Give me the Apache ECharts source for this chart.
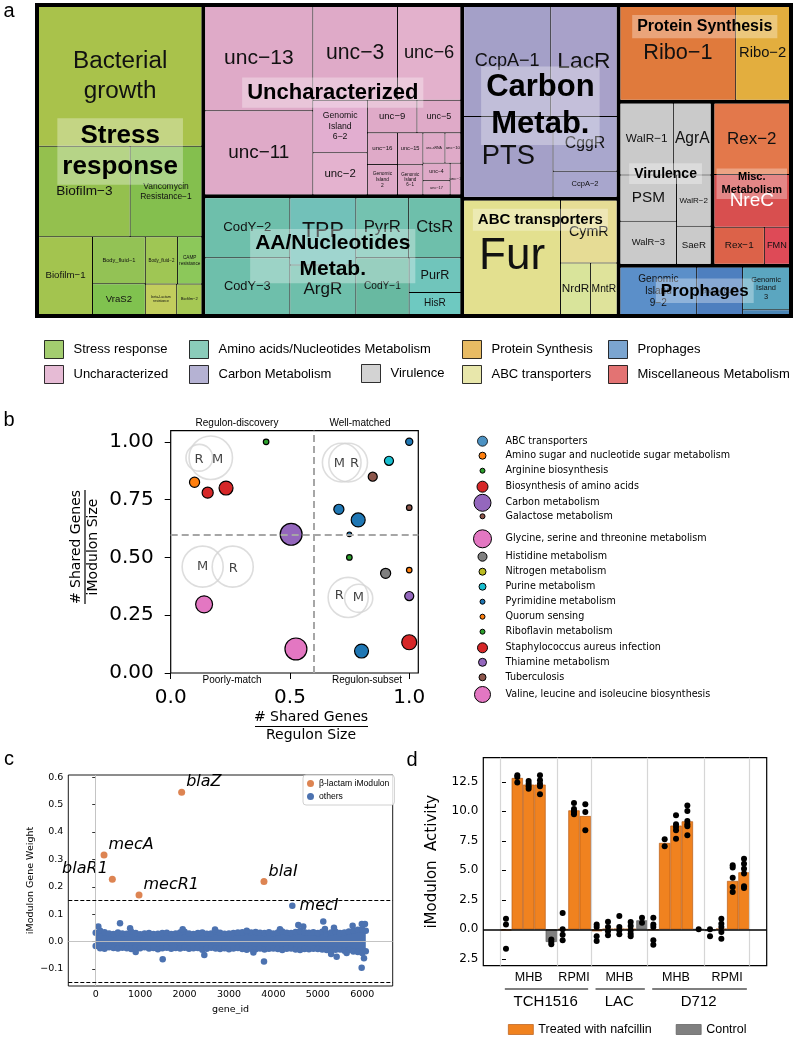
<!DOCTYPE html>
<html>
<head>
<meta charset="utf-8">
<title>iModulon overview</title>
<script src="https://cdn.jsdelivr.net/npm/echarts@6.0.0/dist/echarts.min.js"></script>
<style>
  html, body { margin: 0; padding: 0; background: #fff; }
  #chart { width: 800px; height: 1037px; }
</style>
</head>
<body>
<div id="chart"></div>
<script>
// ---------- a: iModulon treemap (sizes) ----------
const categories = ['Stress response', 'Uncharacterized', 'Amino acids/Nucleotides Metabolism', 'Carbon Metabolism',
  'ABC transporters', 'Protein Synthesis', 'Virulence', 'Miscellaneous Metabolism', 'Prophages'];
const categoryShort = ['Stress\nresponse', 'Uncharacterized', 'AA/Nucleotides\nMetab.', 'Carbon\nMetab.',
  'ABC transporters', 'Protein Synthesis', 'Virulence', 'Misc.\nMetabolism', 'Prophages'];

const stressModulons = ['Bacterial growth', 'Biofilm-3', 'Vancomycin Resistance-1', 'Biofilm-1', 'Body_fluid-1', 'VraS2',
  'Body_fluid-2', 'CAMP resistance', 'beta-Lactam resistance', 'Biofilm-2'];
const stressSizes = [239, 87, 68, 44, 26, 17, 16, 12, 10, 8];
const uncModulons = ['unc-13', 'unc-11', 'unc-3', 'unc-6', 'Genomic Island 6-2', 'unc-2', 'unc-9', 'unc-5', 'unc-16',
  'Genomic Island 2', 'unc-15', 'Genomic Island 6-1', 'unc-sRNA', 'unc-4', 'unc-10', 'unc-17', 'unc-1'];
const uncSizes = [118, 95, 83, 62, 30, 24, 17, 15, 10, 9.5, 8.5, 8, 7, 5, 5, 4, 3.5];
const aaModulons = ['CodY-2', 'CodY-3', 'TPP', 'ArgR', 'PyrR', 'CtsR', 'CodY-1', 'PurR', 'HisR'];
const aaSizes = [54, 51, 47, 34.5, 33.5, 33, 32, 19, 12];
const carbonModulons = ['CcpA-1', 'LacR', 'PTS', 'CggR', 'CcpA-2'];
const carbonSizes = [101, 77, 76, 37, 17.5];
const abcModulons = ['Fur', 'CymR', 'NrdR', 'MntR'];
const abcSizes = [118, 38, 16.5, 14.5];
const proteinModulons = ['Ribo-1', 'Ribo-2'];
const proteinSizes = [116, 54];
const virulenceModulons = ['WalR-1', 'AgrA', 'PSM', 'WalR-3', 'WalR-2', 'SaeR'];
const virulenceSizes = [41, 29, 28, 26, 19, 14];
const miscModulons = ['Rex-2', 'NreC', 'Rex-1', 'FMN'];
const miscSizes = [58, 43, 20, 10];
const prophageModulons = ['Genomic Island 9-2', 'phage_DUF', 'Genomic Island 3', 'Genomic Island 9-1'];
const prophageSizes = [40, 24, 22, 2.5];

// ---------- b: regulon / iModulon overlap ----------
const pathways = ['ABC transporters', 'Amino sugar and nucleotide sugar metabolism', 'Arginine biosynthesis',
  'Biosynthesis of amino acids', 'Carbon metabolism', 'Galactose metabolism', 'Glycine, serine and threonine metabolism',
  'Histidine metabolism', 'Nitrogen metabolism', 'Purine metabolism', 'Pyrimidine metabolism', 'Quorum sensing',
  'Riboflavin metabolism', 'Staphylococcus aureus infection', 'Thiamine metabolism', 'Tuberculosis',
  'Valine, leucine and isoleucine biosynthesis'];
const regulonShare = [0.40, 0.10, 0.155, 0.232, 0.505, 0.14, 0.525, 1.0, 0.915, 0.847, 1.0, 0.705, 0.786, 0.749, 0.749, 0.901, 1.0, 1.0, 0.80, 1.0];
const imodulonShare = [1.0, 0.825, 0.78, 0.80, 0.60, 0.297, 0.104, 1.0, 0.918, 0.849, 0.715, 0.708, 0.662, 0.60, 0.50, 0.431, 0.445, 0.333, 0.095, 0.133];
const sharedGenes = [3, 10, 12, 19, 47, 28, 47, 5, 8, 8, 3, 10, 19, 2, 3, 10, 3, 8, 19, 22];
const pointPathway = ['Riboflavin metabolism', 'Amino sugar and nucleotide sugar metabolism', 'Biosynthesis of amino acids',
  'Biosynthesis of amino acids', 'Carbon metabolism', 'Valine, leucine and isoleucine biosynthesis',
  'Glycine, serine and threonine metabolism', 'Pyrimidine metabolism', 'Purine metabolism', 'Tuberculosis',
  'Galactose metabolism', 'ABC transporters', 'ABC transporters', 'Pyrimidine metabolism', 'Arginine biosynthesis',
  'Histidine metabolism', 'Quorum sensing', 'Thiamine metabolism', 'ABC transporters', 'Staphylococcus aureus infection'];
// quadrant sketches (circle centre, radius in x units) and their letters
const vennX = [0.12, 0.168, 0.717, 0.744, 0.134, 0.26, 0.744, 0.788];
const vennY = [0.931, 0.931, 0.91, 0.91, 0.46, 0.46, 0.327, 0.323];
const vennR = [0.056, 0.091, 0.081, 0.081, 0.086, 0.086, 0.084, 0.059];
const vennLetters = ['R', 'M', 'M', 'R', 'M', 'R', 'R', 'M'];
const vennLetterX = [0.119, 0.197, 0.707, 0.771, 0.134, 0.262, 0.707, 0.787];
const vennLetterY = [0.924, 0.924, 0.904, 0.904, 0.46, 0.452, 0.335, 0.327];

// ---------- c: beta-lactam iModulon gene weights ----------
const betaGenes = ['blaZ', 'mecA', 'blaR1', 'mecR1', 'blaI'];
const betaGeneId = [1935, 187, 374, 975, 3788];
const betaWeight = [0.545, 0.316, 0.228, 0.170, 0.219];
const otherGeneId = [4426, 59, 547, 774, 1508, 1958, 2445, 2686, 3789, 4148, 4561, 4673, 5123, 5161, 5364, 5424,
  5649, 5784, 5990, 6061, 5987, 6039, 900, 3400, 3550, 5300];
const otherWeight = [0.131, 0.055, 0.067, 0.049, -0.064, 0.045, -0.049, 0.044, -0.073, 0.045, 0.061, 0.055, 0.073,
  0.046, 0.051, -0.055, -0.042, 0.058, 0.064, 0.064, -0.095, -0.061, -0.038, 0.040, -0.040, -0.045];
const otherLabelled = ['mecI'];
// the dense cloud of remaining genes: upper / lower edge read every 100 ids
const bandGeneId = [0, 100, 200, 300, 400, 500, 600, 700, 800, 900, 1000, 1100, 1200, 1300, 1400, 1500, 1600, 1700,
  1800, 1900, 2000, 2100, 2200, 2300, 2400, 2500, 2600, 2700, 2800, 2900, 3000, 3100, 3200, 3300, 3400, 3500, 3600,
  3700, 3800, 3900, 4000, 4100, 4200, 4300, 4400, 4500, 4600, 4700, 4800, 4900, 5000, 5100, 5200, 5300, 5400, 5500,
  5600, 5700, 5800, 5900, 6000, 6080];
const bandUpper = [0.032, 0.040, 0.034, 0.030, 0.028, 0.033, 0.030, 0.029, 0.036, 0.031, 0.027, 0.030, 0.031, 0.028,
  0.029, 0.031, 0.032, 0.028, 0.030, 0.033, 0.036, 0.030, 0.028, 0.031, 0.033, 0.029, 0.030, 0.038, 0.032, 0.029,
  0.030, 0.031, 0.033, 0.034, 0.036, 0.033, 0.035, 0.032, 0.031, 0.034, 0.030, 0.033, 0.037, 0.032, 0.031, 0.035,
  0.039, 0.034, 0.032, 0.034, 0.031, 0.036, 0.030, 0.033, 0.036, 0.031, 0.033, 0.037, 0.040, 0.043, 0.045, 0.040];
const bandLower = [-0.016, -0.024, -0.026, -0.021, -0.023, -0.025, -0.022, -0.024, -0.027, -0.022, -0.024, -0.021,
  -0.025, -0.023, -0.028, -0.024, -0.022, -0.026, -0.023, -0.025, -0.022, -0.026, -0.024, -0.023, -0.030, -0.026,
  -0.022, -0.025, -0.027, -0.024, -0.028, -0.025, -0.023, -0.027, -0.030, -0.026, -0.028, -0.025, -0.029, -0.026,
  -0.025, -0.027, -0.031, -0.026, -0.025, -0.029, -0.031, -0.027, -0.028, -0.026, -0.027, -0.029, -0.031, -0.028,
  -0.030, -0.029, -0.033, -0.031, -0.036, -0.038, -0.042, -0.035];

// ---------- d: iModulon activity per sample ----------
const sampleStrain = ['TCH1516', 'TCH1516', 'TCH1516', 'TCH1516', 'TCH1516', 'TCH1516', 'TCH1516', 'TCH1516',
  'LAC', 'LAC', 'LAC', 'LAC', 'LAC', 'D712', 'D712', 'D712', 'D712', 'D712', 'D712', 'D712', 'D712', 'D712'];
const sampleMedium = ['MHB', 'MHB', 'MHB', 'MHB', 'MHB', 'RPMI', 'RPMI', 'RPMI', 'MHB', 'MHB', 'MHB', 'MHB', 'MHB',
  'MHB', 'MHB', 'MHB', 'MHB', 'MHB', 'RPMI', 'RPMI', 'RPMI', 'RPMI'];
const sampleTreatment = ['Treated', 'Treated', 'Treated', 'Treated', 'Control', 'Treated', 'Treated', 'Treated',
  'Treated', 'Treated', 'Treated', 'Treated', 'Control', 'Treated', 'Treated', 'Treated', 'Treated', 'Control',
  'Control', 'Treated', 'Treated', 'Treated'];
const activity = [-0.1, 12.82, 12.26, 12.26, -1.07, 0.0, 10.08, 9.6, -0.17, 0.03, 0.05, 0.03, 0.76, -0.05,
  7.32, 8.79, 9.15, 0.0, -0.15, 0.05, 4.1, 4.83];
const replicates = [
  [0.9, 0.4, -1.64], [13.05, 12.9, 12.43], [12.57, 12.34, 12.12, 11.92], [13.05, 12.63, 12.34, 12.12, 11.44],
  [-0.85, -1.07, -1.27], [1.38, 0.0, -0.45, -0.93], [10.7, 10.2, 10.0, 9.9, 9.75], [10.6, 9.94, 8.39],
  [0.42, 0.2, -0.59, -0.99], [0.65, 0.2, -0.17, -0.5], [1.13, 0.2, -0.08, -0.42], [0.62, 0.28, -0.08, -0.37, -0.59],
  [0.99, 0.56], [0.99, 0.42, 0.2, -0.93, -1.3], [7.63, 7.03], [9.66, 8.9, 8.67, 8.39, 7.68],
  [10.5, 10.03, 9.18, 8.9, 8.73, 7.97], [0.0], [0.0, -0.59], [0.9, 0.48, 0.2, -0.23, -0.79],
  [5.42, 5.23, 4.38, 3.59, 3.16], [5.99, 5.56, 5.14, 4.72, 3.64, 3.5]
];

// ---------- styles ----------
const ARIAL = 'Liberation Sans';
const DEJAVU = 'DejaVu Sans';
const tab10 = ['#1f77b4', '#ff7f0e', '#2ca02c', '#d62728', '#9467bd', '#8c564b', '#e377c2', '#7f7f7f', '#bcbd22', '#17becf'];
const groupColors = ['#9fc34d', '#dfaac8', '#6ebfab', '#a4a0c8', '#e3e092', '#e3aa3d', '#cacaca', '#dc5450', '#5b8fc6'];
const legendColors = ['#8cc04b', '#e0aacb', '#6dbfa9', '#a39fc8', '#e2e196', '#e2aa3c', '#c8c8c8', '#dc5050', '#5a8fc4'];
const leafColors = {
  'Bacterial growth': '#a9c24b', 'Biofilm-3': '#94c04e', 'Vancomycin Resistance-1': '#84bf4e', 'Biofilm-1': '#a3c44f',
  'Body_fluid-1': '#93c255', 'VraS2': '#80c24f', 'Body_fluid-2': '#9fc654', 'CAMP resistance': '#8cc85a',
  'beta-Lactam resistance': '#c2cd5d', 'Biofilm-2': '#a6c854',
  'Genomic Island 6-2': '#e2aed0', 'unc-2': '#e4b2cf', 'unc-6': '#e3b1cc',
  'TPP': '#72c1b9', 'PurR': '#70c5bb', 'HisR': '#6ec9c1', 'CodY-1': '#68b9a1', 'PyrR': '#74c2b0',
  'CggR': '#a9a7cd', 'CcpA-2': '#a8a6cd', 'LacR': '#a8a1c9',
  'Fur': '#e3e08f', 'CymR': '#e6dc95', 'NrdR': '#d9e49b', 'MntR': '#dfe39b',
  'Ribo-1': '#e07a3c', 'Ribo-2': '#e3ae3e',
  'Rex-2': '#e3784b', 'NreC': '#d84f4f', 'Rex-1': '#dc6249', 'FMN': '#de4a57',
  'Genomic Island 9-2': '#5b8fc9', 'phage_DUF': '#4e7fbf', 'Genomic Island 3': '#5ba6c0', 'Genomic Island 9-1': '#4b86b6'
};
const groupLabelSize = [26, 22, 21, 31, 15, 16, 14, 11, 17];
const groupLabelTop = [false, false, false, false, true, true, false, false, false];
const groupLabelShift = [-9, -8, 0, 4, 0, 0, -10, 0, 0];
const bLegendSize = [10, 7, 5, 11, 17, 5, 18, 9, 7, 7, 5, 5, 5, 10, 8, 7, 16];
const bLegendY = [441.7, 456.7, 471.7, 486.7, 502.3, 517.3, 538.3, 557.7, 572.7, 587.7, 602.7, 617.7, 632.7, 648.3, 663.3, 678.3, 694];
const C_ORANGE = '#dd8452', C_BLUE = '#4c72b0';
const TREE_BOX = { left: 35, top: 3, width: 758, height: 315 };

const displayName = n => n.replace(/-(\d)/g, '\u2212$1').replace(/ /g, '\n');
function textEm(t) {
  let w = 0;
  for (const ch of t) {
    if ('iljtrf.,:;|!_'.includes(ch)) w += 0.3;
    else if ('mwMW'.includes(ch)) w += 0.85;
    else if (/[A-Z]/.test(ch)) w += 0.68;
    else w += 0.55;
  }
  return w;
}
// grow the label to fill its box, like the original
function fitFont(name, v) {
  const s = Math.sqrt(v) * 10;
  const lines = displayName(name).split('\n');
  const em = Math.max(...lines.map(textEm));
  return Math.max(3.5, Math.min(0.64 * s / em, 0.75 * s / (lines.length * 1.2), 44));
}

const chart = echarts.init(document.getElementById('chart'));

const modulonNames = [stressModulons, uncModulons, aaModulons, carbonModulons, abcModulons, proteinModulons,
  virulenceModulons, miscModulons, prophageModulons];
const modulonSizes = [stressSizes, uncSizes, aaSizes, carbonSizes, abcSizes, proteinSizes, virulenceSizes,
  miscSizes, prophageSizes];

const treeData = categories.map((c, i) => ({
  name: c,
  itemStyle: { color: groupColors[i] },
  children: modulonNames[i].map((m, j) => {
    const fs = fitFont(m, modulonSizes[i][j]);
    return {
      name: m, value: modulonSizes[i][j],
      itemStyle: { color: leafColors[m] || groupColors[i] },
      label: { fontSize: fs, lineHeight: fs * 1.2, color: m === 'NreC' ? '#fff' : '#111' }
    };
  })
}));

const series = [];
series.push(Object.assign({
  type: 'treemap', name: 'modulons', data: treeData, z: 2,
  roam: false, nodeClick: false, breadcrumb: { show: false }, squareRatio: 1.061,
  visibleMin: 0, tooltip: { show: false }, upperLabel: { show: false },
  levels: [
    { itemStyle: { borderColor: '#000', borderWidth: 4, gapWidth: 4 } },
    { itemStyle: { borderColor: '#000', borderWidth: 0, gapWidth: 1 } },
    { itemStyle: { borderWidth: 0 } }
  ],
  label: { show: true, position: 'inside', padding: 0, overflow: 'none', fontFamily: ARIAL,
    formatter: p => displayName(p.name) }
}, TREE_BOX));
// legend carriers for panel a
categories.forEach((c, i) => series.push({
  type: 'scatter', name: c, xAxisIndex: 0, yAxisIndex: 0, data: [], itemStyle: { color: legendColors[i] }
}));

// ---- panel b series ----
const bPxPerUnit = 247.6 / 1.038;
series.push({
  type: 'scatter', name: 'venn', xAxisIndex: 0, yAxisIndex: 0, silent: true, z: 1,
  data: vennX.map((x, i) => [x, vennY[i], vennR[i]]),
  symbolSize: v => 2 * v[2] * bPxPerUnit,
  itemStyle: { color: 'rgba(0,0,0,0)', borderColor: '#d5d5d5', borderWidth: 1.6 },
  markLine: {
    silent: true, symbol: 'none', label: { show: false },
    lineStyle: { color: '#a6a6a6', width: 2, type: [7, 4] },
    data: [{ xAxis: 0.6 }, { yAxis: 0.6 }]
  }
});
series.push({
  type: 'scatter', name: 'vennLetters', xAxisIndex: 0, yAxisIndex: 0, silent: true, z: 2, symbolSize: 1,
  itemStyle: { color: 'rgba(0,0,0,0)' },
  data: vennLetters.map((l, i) => ({ name: l, value: [vennLetterX[i], vennLetterY[i]] })),
  label: { show: true, position: 'inside', formatter: p => p.name, fontFamily: DEJAVU, fontSize: 13, color: '#111' }
});
pathways.forEach((p, k) => {
  const pts = [];
  pointPathway.forEach((q, i) => { if (q === p) pts.push([regulonShare[i], imodulonShare[i], sharedGenes[i]]); });
  series.push({
    type: 'scatter', name: p, xAxisIndex: 0, yAxisIndex: 0, z: 3, data: pts,
    symbolSize: v => 3.2 * Math.sqrt(v[2]),
    itemStyle: { color: tab10[k % 10], borderColor: '#000', borderWidth: 1.2, opacity: 1 }
  });
});

// ---- panel c series ----
const bandStyle = { symbol: 'none', silent: true, z: 2, lineStyle: { width: 0 }, areaStyle: { color: C_BLUE, opacity: 1 } };
series.push(Object.assign({ type: 'line', name: 'bandUpper', xAxisIndex: 1, yAxisIndex: 1,
  data: bandGeneId.map((g, i) => [g, bandUpper[i]]) }, bandStyle));
series.push(Object.assign({ type: 'line', name: 'bandLower', xAxisIndex: 1, yAxisIndex: 1,
  data: bandGeneId.map((g, i) => [g, bandLower[i]]) }, bandStyle));
const othersData = [];
bandGeneId.forEach((g, i) => { othersData.push([g, bandUpper[i]]); othersData.push([g, bandLower[i]]); });
otherGeneId.forEach((g, i) => {
  const item = { name: i < otherLabelled.length ? otherLabelled[i] : '', value: [g, otherWeight[i]] };
  if (i < otherLabelled.length) item.label = { show: true, position: 'right', distance: 4 };
  othersData.push(item);
});
const geneLabel = { formatter: p => p.name, fontFamily: DEJAVU, fontStyle: 'italic', fontSize: 16, color: '#000' };
series.push({
  type: 'scatter', name: 'others', xAxisIndex: 1, yAxisIndex: 1, z: 3, symbolSize: 6.5,
  itemStyle: { color: C_BLUE, opacity: 1 }, data: othersData, label: Object.assign({ show: false }, geneLabel),
  markLine: {
    silent: true, symbol: 'none', label: { show: false },
    data: [
      { xAxis: 0, lineStyle: { color: '#bdbdbd', width: 0.9, type: 'solid' } },
      { yAxis: 0, lineStyle: { color: '#bdbdbd', width: 0.9, type: 'solid' } },
      { yAxis: 0.15, lineStyle: { color: '#000', width: 1, type: [4, 2] } },
      { yAxis: -0.15, lineStyle: { color: '#000', width: 1, type: [4, 2] } }
    ]
  }
});
series.push({
  type: 'scatter', name: '\u03b2-lactam iModulon', xAxisIndex: 1, yAxisIndex: 1, z: 4, symbolSize: 7,
  itemStyle: { color: C_ORANGE, opacity: 1 },
  data: betaGenes.map((g, i) => ({
    name: g, value: [betaGeneId[i], betaWeight[i]],
    label: { position: g === 'blaR1' ? 'left' : 'right', distance: 1, offset: [0, -10] }
  })),
  label: Object.assign({ show: true }, geneLabel)
});

// ---- panel d series ----
const groupsD = [];
sampleStrain.forEach((s, i) => {
  const last = groupsD[groupsD.length - 1];
  if (last && last.strain === s && last.medium === sampleMedium[i]) last.end = i;
  else groupsD.push({ strain: s, medium: sampleMedium[i], start: i, end: i });
});
const strainGroups = [];
sampleStrain.forEach((s, i) => {
  const last = strainGroups[strainGroups.length - 1];
  if (last && last.strain === s) last.end = i;
  else strainGroups.push({ strain: s, start: i, end: i });
});
const mediumCenters = groupsD.map(g => (g.start + g.end) / 2);
const strainCenters = strainGroups.map(g => (g.start + g.end) / 2);
const separators = [groupsD[0].start - 0.5].concat(groupsD.map(g => g.end + 0.5));
const labelAt = (centers, names) => v => {
  const k = centers.findIndex(c => Math.abs(c - v) < 1e-6);
  return k < 0 ? '' : names[k];
};

const dBarWidth = 283.4 / 25;
const barStyle = {
  Treated: { color: '#f0821f', borderColor: '#b85c17', borderWidth: 0.7 },
  Control: { color: '#808080', borderColor: '#5a5a5a', borderWidth: 0.7 }
};
['Treated', 'Control'].forEach(t => {
  series.push({
    type: 'bar', name: t === 'Treated' ? 'Treated with nafcillin' : 'Control', xAxisIndex: 2, yAxisIndex: 2,
    barWidth: dBarWidth, barGap: '-100%', z: 2, itemStyle: barStyle[t],
    data: activity.map((a, i) => [i, a]).filter((d, i) => sampleTreatment[i] === t),
    markLine: t === 'Treated' ? {
      silent: true, symbol: 'none', label: { show: false },
      data: separators.map(x => ({ xAxis: x, lineStyle: { color: '#d6d6d6', width: 1.2, type: 'solid' } }))
        .concat([{ yAxis: 0, lineStyle: { color: '#000', width: 1.5, type: 'solid' } }])
    } : undefined
  });
});
const repData = [];
replicates.forEach((r, i) => r.forEach(v => repData.push([i, v])));
series.push({
  type: 'scatter', name: 'replicates', xAxisIndex: 2, yAxisIndex: 2, z: 6, symbolSize: 6,
  itemStyle: { color: '#000', opacity: 1 }, data: repData
});

// ---------- axes ----------
const blackTxt = { color: '#000' };
const xAxes = [
  { gridIndex: 0, type: 'value', min: 0, max: 1.038, splitLine: { show: false }, axisLine: { show: false },
    axisTick: { customValues: [0, 0.5, 1], length: 6, lineStyle: { color: '#000', width: 1 } },
    axisLabel: Object.assign({ customValues: [0, 0.5, 1], formatter: v => v.toFixed(1), fontSize: 20,
      fontFamily: DEJAVU, margin: 15 }, blackTxt) },
  { gridIndex: 1, type: 'value', min: -617, max: 6686, splitLine: { show: false }, axisLine: { show: false },
    axisTick: { customValues: [0, 1000, 2000, 3000, 4000, 5000, 6000], length: 3.5, lineStyle: { color: '#000', width: 0.8 } },
    axisLabel: Object.assign({ customValues: [0, 1000, 2000, 3000, 4000, 5000, 6000], formatter: v => String(v),
      fontSize: 9.5, fontFamily: DEJAVU, margin: 4 }, blackTxt),
    name: 'gene_id', nameLocation: 'middle', nameGap: 19,
    nameTextStyle: Object.assign({ fontFamily: DEJAVU, fontSize: 9.5 }, blackTxt) },
  { gridIndex: 2, type: 'value', min: -2, max: 23, splitLine: { show: false }, axisLine: { show: false },
    axisTick: { show: false },
    axisLabel: Object.assign({ customValues: mediumCenters, formatter: labelAt(mediumCenters, groupsD.map(g => g.medium)),
      fontSize: 12.5, fontFamily: ARIAL, margin: 5 }, blackTxt) },
  { gridIndex: 2, type: 'value', min: -2, max: 23, position: 'bottom', offset: 24, splitLine: { show: false },
    axisLine: { show: false }, axisTick: { show: false },
    axisLabel: Object.assign({ customValues: strainCenters, formatter: labelAt(strainCenters, strainGroups.map(g => g.strain)),
      fontSize: 15, fontFamily: ARIAL, margin: 5 }, blackTxt) }
];
const yAxes = [
  { gridIndex: 0, type: 'value', min: 0, max: 1.048, splitLine: { show: false }, axisLine: { show: false },
    axisTick: { customValues: [0, 0.25, 0.5, 0.75, 1], length: 6, lineStyle: { color: '#000', width: 1 } },
    axisLabel: Object.assign({ customValues: [0, 0.25, 0.5, 0.75, 1], formatter: v => v.toFixed(2), fontSize: 20,
      fontFamily: DEJAVU, margin: 17 }, blackTxt) },
  { gridIndex: 1, type: 'value', min: -0.162, max: 0.608, splitLine: { show: false }, axisLine: { show: false },
    axisTick: { customValues: [-0.1, 0, 0.1, 0.2, 0.3, 0.4, 0.5, 0.6], length: 3.5, lineStyle: { color: '#000', width: 0.8 } },
    axisLabel: Object.assign({ customValues: [-0.1, 0, 0.1, 0.2, 0.3, 0.4, 0.5, 0.6],
      formatter: v => (v < 0 ? '\u2212' : '') + Math.abs(v).toFixed(1), fontSize: 9.5, fontFamily: DEJAVU, margin: 5 }, blackTxt),
    name: 'iModulon Gene Weight', nameLocation: 'middle', nameRotate: 90, nameGap: 33,
    nameTextStyle: Object.assign({ fontFamily: DEJAVU, fontSize: 9.5 }, blackTxt) },
  { gridIndex: 2, type: 'value', min: -3.08, max: 14.54, splitLine: { show: false }, axisLine: { show: false },
    axisTick: { customValues: [-2.5, 0, 2.5, 5, 7.5, 10, 12.5], length: 4, lineStyle: { color: '#000', width: 1 } },
    axisLabel: Object.assign({ customValues: [-2.5, 0, 2.5, 5, 7.5, 10, 12.5], formatter: v => Math.abs(v).toFixed(1),
      fontSize: 12, fontFamily: DEJAVU, margin: 5 }, blackTxt),
    name: 'iModulon  Activity', nameLocation: 'middle', nameRotate: 90, nameGap: 44,
    nameTextStyle: Object.assign({ fontFamily: DEJAVU, fontSize: 15 }, blackTxt) }
];

// ---------- legends ----------
const legends = [];
const aLegendCols = [[0, 1], [2, 3], [null, 6], [5, 4], [8, 7]];
const aLegendLeft = [44, 189, 361, 462, 608];
aLegendCols.forEach((col, c) => {
  const items = col.filter(i => i !== null);
  legends.push({
    left: aLegendLeft[c], top: col[0] === null ? 364 : 340, orient: 'vertical', padding: 0, itemGap: 6,
    itemWidth: 19, itemHeight: 18, icon: 'rect', selectedMode: false,
    data: items.map(i => ({ name: categories[i], itemStyle: { color: legendColors[i], borderColor: '#000', borderWidth: 1 } })),
    textStyle: { fontFamily: ARIAL, fontSize: 13, color: '#000', padding: [0, 0, 0, 5] }
  });
});
pathways.forEach((p, k) => {
  const s = bLegendSize[k];
  legends.push({
    left: 482 - s / 2, top: bLegendY[k] - Math.max(s, 12) / 2, orient: 'vertical', padding: 0,
    itemWidth: s, itemHeight: s, icon: 'circle', selectedMode: false,
    data: [{ name: p, itemStyle: { color: tab10[k % 10], borderColor: '#000', borderWidth: 1 } }],
    textStyle: { fontFamily: DEJAVU, fontSize: 9.6, color: '#000', padding: [0, 0, 0, 18 - s / 2] }
  });
});
legends.push({
  left: 303, top: 775, orient: 'vertical', padding: [4, 5, 4, 4], itemGap: 4, itemWidth: 7, itemHeight: 7,
  icon: 'circle', selectedMode: false, backgroundColor: 'rgba(255,255,255,0.85)', borderColor: '#d0d0d0',
  borderWidth: 1, borderRadius: 3,
  data: [{ name: '\u03b2-lactam iModulon', itemStyle: { color: C_ORANGE } }, { name: 'others', itemStyle: { color: C_BLUE } }],
  textStyle: { fontFamily: ARIAL, fontSize: 8.6, color: '#000' }
});
legends.push({
  left: 508, top: 1023, orient: 'horizontal', padding: 0, itemGap: 24, itemWidth: 25, itemHeight: 10,
  icon: 'rect', selectedMode: false,
  data: [{ name: 'Treated with nafcillin', itemStyle: barStyle.Treated }, { name: 'Control', itemStyle: barStyle.Control }],
  textStyle: { fontFamily: ARIAL, fontSize: 12.5, color: '#000' }
});

chart.setOption({
  animation: false,
  textStyle: { fontFamily: ARIAL },
  grid: [
    { left: 170.7, top: 430.7, width: 247.6, height: 242.3, show: true, borderColor: '#000', borderWidth: 1.2 },
    { left: 68.3, top: 775, width: 324.4, height: 211, show: true, borderColor: '#000', borderWidth: 0.9 },
    { left: 483.3, top: 757.7, width: 283.4, height: 208, show: true, borderColor: '#000', borderWidth: 1.2 }
  ],
  xAxis: xAxes,
  yAxis: yAxes,
  legend: legends,
  series: series
});

// ---------- annotations ----------
const txt = (t, x, y, size, font, extra) => ({
  type: 'text', x: x, y: y, silent: true, z: 100,
  style: Object.assign({ text: t, fontSize: size, fontFamily: font, fill: '#000', align: 'center', verticalAlign: 'middle' }, extra || {})
});
const gfx = [
  txt('a', 9, 11, 20, ARIAL), txt('b', 9, 420, 20, ARIAL), txt('c', 9, 759, 20, ARIAL), txt('d', 412, 760, 20, ARIAL),
  txt('Regulon-discovery', 237, 423, 10, ARIAL), txt('Well-matched', 360, 423, 10, ARIAL),
  txt('Poorly-match', 232, 680, 10, ARIAL), txt('Regulon-subset', 367, 680, 10, ARIAL),
  txt('# Shared Genes', 311, 717.5, 14, DEJAVU),
  { type: 'line', silent: true, shape: { x1: 255, y1: 726.5, x2: 368, y2: 726.5 }, style: { stroke: '#000', lineWidth: 1.2 } },
  txt('Regulon Size', 311, 735, 14, DEJAVU),
  {
    type: 'group', x: 85, y: 547, rotation: Math.PI / 2, silent: true,
    children: [
      txt('# Shared Genes', 0, -8.5, 14, DEJAVU),
      { type: 'line', shape: { x1: -57, y1: 0, x2: 57, y2: 0 }, style: { stroke: '#000', lineWidth: 1.2 } },
      txt('iModulon Size', 0, 8, 14, DEJAVU)
    ]
  }
];
// category titles centred on the boxes the treemap laid out
try {
  const groupNodes = chart.getModel().getSeriesByIndex(0).getData().tree.root.children;
  groupNodes.forEach(n => {
    const i = categories.indexOf(n.name);
    const l = n.getLayout();
    if (i < 0 || !l) return;
    const fs = groupLabelSize[i];
    const lines = categoryShort[i].split('\n').length;
    const cx = TREE_BOX.left + l.x + l.width / 2;
    const cy = (groupLabelTop[i] ? TREE_BOX.top + l.y + 10 + (lines * fs * 1.2) / 2 : TREE_BOX.top + l.y + l.height / 2)
      + groupLabelShift[i];
    gfx.push(txt(categoryShort[i], cx, cy, fs, ARIAL, {
      fontWeight: 'bold', lineHeight: fs * 1.2, backgroundColor: 'rgba(255,255,255,0.32)', padding: [2, 5]
    }));
  });
} catch (e) { /* layout not reachable: leave titles out */ }
strainGroups.forEach(g => {
  const x1 = chart.convertToPixel({ xAxisIndex: 2 }, g.start - 0.1);
  const x2 = chart.convertToPixel({ xAxisIndex: 2 }, g.end + 0.25);
  gfx.push({ type: 'line', silent: true, shape: { x1: x1, y1: 989, x2: x2, y2: 989 }, style: { stroke: '#000', lineWidth: 1.2 } });
});
chart.setOption({ graphic: gfx });
</script>
</body>
</html>
